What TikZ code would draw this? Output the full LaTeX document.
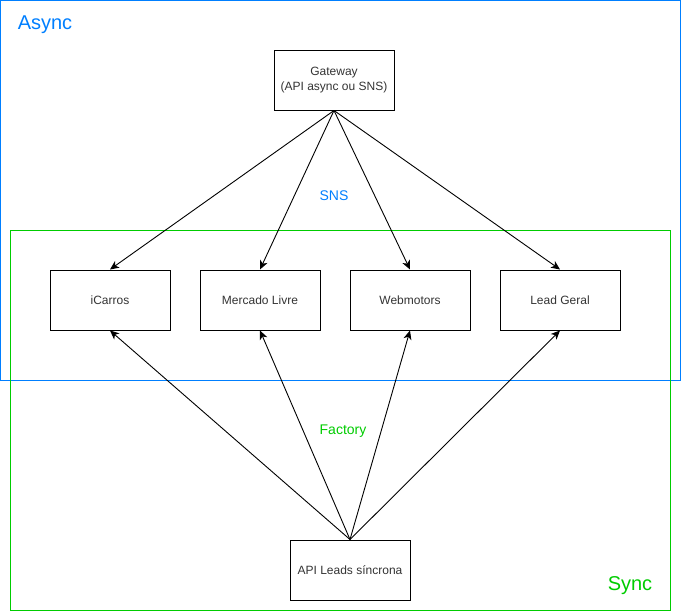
\documentclass[tikz,border=0pt]{standalone}
\usepackage{fontspec}
\setmainfont{Liberation Sans}
\usetikzlibrary{arrows.meta}
\definecolor{asyncblue}{HTML}{007FFF}
\definecolor{syncgreen}{HTML}{00CC00}
\definecolor{boxtext}{HTML}{333333}
\begin{document}
\begin{tikzpicture}[x=1pt, y=-1pt]
        \tikzstyle{box}=[rectangle, draw=black, line width=1pt, minimum width=120pt, minimum height=60pt, inner sep=0pt, align=center, text=boxtext, font=\fontsize{12}{15}\selectfont]
        \tikzstyle{arr}=[black, line width=0.9pt, -{Stealth[length=9pt, width=8pt, inset=2.5pt]}]
        \tikzstyle{zone}=[line width=1pt]
        \tikzstyle{zonelabel}=[inner sep=0pt, font=\fontsize{20}{24}\selectfont]
        \tikzstyle{flowlabel}=[inner sep=0pt, font=\fontsize{14}{17}\selectfont]
        \useasboundingbox (0,0) rectangle (681,611);

        % zones
        \draw[zone, asyncblue] (0.5,0.5) rectangle (680.5,380.5);
        \draw[zone, syncgreen] (10.5,230.5) rectangle (670.5,610.5);
        \node[zonelabel, text=asyncblue] (async) at (45,25) {Async};
        \node[zonelabel, text=syncgreen] (sync) at (630,586) {Sync};

        % services
        \node[box] (gw)  at (334,80)  {Gateway\\(API async ou SNS)};
        \node[box] (ic)  at (110,300) {iCarros};
        \node[box] (ml)  at (260,300) {Mercado Livre};
        \node[box] (wm)  at (410,300) {Webmotors};
        \node[box] (lg)  at (560,300) {Lead Geral};
        \node[box] (api) at (350,570) {API Leads síncrona};

        \node[flowlabel, text=asyncblue] (sns) at (334,196) {SNS};
        \node[flowlabel, text=syncgreen] (factory) at (343,431) {Factory};

        \draw[arr] (gw.south) -- (ic.north);
        \draw[arr] (gw.south) -- (ml.north);
        \draw[arr] (gw.south) -- (wm.north);
        \draw[arr] (gw.south) -- (lg.north);

        \draw[arr] (api.north) -- (ic.south);
        \draw[arr] (api.north) -- (ml.south);
        \draw[arr] (api.north) -- (wm.south);
        \draw[arr] (api.north) -- (lg.south);
    \end{tikzpicture}
\end{document}
